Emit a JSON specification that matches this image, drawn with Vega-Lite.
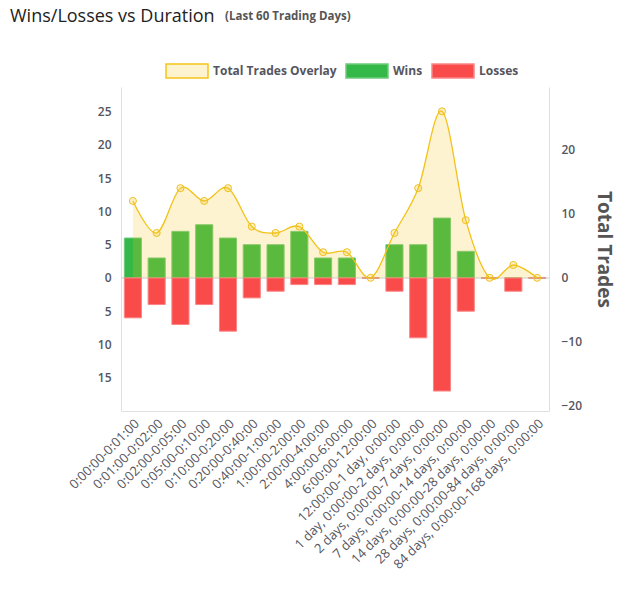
{
  "$schema": "https://vega.github.io/schema/vega-lite/v6.json",
  "width": 428,
  "height": 324,
  "padding": {"left": 10, "top": 8, "right": 5, "bottom": 5},
  "title": {
    "text": "Wins/Losses vs Duration",
    "subtitle": "\u200b\u00a0\u00a0\u00a0\u00a0\u00a0\u00a0\u00a0\u00a0\u00a0\u00a0\u00a0\u00a0\u00a0\u00a0\u00a0\u00a0\u00a0\u00a0\u00a0\u00a0\u00a0\u00a0\u00a0\u00a0\u00a0\u00a0\u00a0\u00a0\u00a0\u00a0\u00a0\u00a0\u00a0\u00a0\u00a0\u00a0\u00a0\u00a0\u00a0\u00a0\u00a0\u00a0\u00a0\u00a0\u00a0\u00a0\u00a0\u00a0\u00a0\u00a0\u00a0\u00a0\u00a0\u00a0\u00a0\u00a0\u00a0\u00a0\u00a0\u00a0\u00a0\u00a0\u00a0\u00a0\u00a0\u00a0\u00a0\u00a0\u00a0\u00a0\u00a0\u00a0(Last 60 Trading Days)",
    "anchor": "start",
    "frame": "group",
    "dx": -111,
    "offset": 23,
    "font": "Open Sans",
    "fontSize": 18,
    "fontWeight": "normal",
    "color": "#222222",
    "subtitleFont": "Open Sans",
    "subtitleFontSize": 11.5,
    "subtitleFontWeight": "bold",
    "subtitleColor": "#555555",
    "subtitlePadding": -15
  },
  "data": {
    "values": [
      {"duration": "0:00:00-0:01:00", "Wins": 6, "Losses": -6, "Total": 12},
      {"duration": "0:01:00-0:02:00", "Wins": 3, "Losses": -4, "Total": 7},
      {"duration": "0:02:00-0:05:00", "Wins": 7, "Losses": -7, "Total": 14},
      {"duration": "0:05:00-0:10:00", "Wins": 8, "Losses": -4, "Total": 12},
      {"duration": "0:10:00-0:20:00", "Wins": 6, "Losses": -8, "Total": 14},
      {"duration": "0:20:00-0:40:00", "Wins": 5, "Losses": -3, "Total": 8},
      {"duration": "0:40:00-1:00:00", "Wins": 5, "Losses": -2, "Total": 7},
      {"duration": "1:00:00-2:00:00", "Wins": 7, "Losses": -1, "Total": 8},
      {"duration": "2:00:00-4:00:00", "Wins": 3, "Losses": -1, "Total": 4},
      {"duration": "4:00:00-6:00:00", "Wins": 3, "Losses": -1, "Total": 4},
      {"duration": "6:00:00-12:00:00", "Wins": 0, "Losses": 0, "Total": 0},
      {"duration": "12:00:00-1 day, 0:00:00", "Wins": 5, "Losses": -2, "Total": 7},
      {"duration": "1 day, 0:00:00-2 days, 0:00:00", "Wins": 5, "Losses": -9, "Total": 14},
      {"duration": "2 days, 0:00:00-7 days, 0:00:00", "Wins": 9, "Losses": -17, "Total": 26},
      {"duration": "7 days, 0:00:00-14 days, 0:00:00", "Wins": 4, "Losses": -5, "Total": 9},
      {"duration": "14 days, 0:00:00-28 days, 0:00:00", "Wins": 0, "Losses": 0, "Total": 0},
      {"duration": "28 days, 0:00:00-84 days, 0:00:00", "Wins": 0, "Losses": -2, "Total": 2},
      {"duration": "84 days, 0:00:00-168 days, 0:00:00", "Wins": 0, "Losses": 0, "Total": 0}
    ]
  },
  "layer": [
    {
      "layer": [
        {
          "mark": {"type": "rule", "color": "#e4e4e4", "strokeWidth": 1},
          "encoding": {"y": {"datum": 0, "type": "quantitative"}}
        },
        {
          "transform": [{"fold": ["Wins", "Losses"], "as": ["series", "value"]}],
          "mark": {"type": "bar", "strokeWidth": 1},
          "encoding": {
            "x": {
              "field": "duration",
              "type": "nominal",
              "sort": null,
              "scale": {"paddingInner": 0.28, "paddingOuter": 0.14},
              "axis": {
                "title": null,
                "labelAngle": -45,
                "labelLimit": 400,
                "labelFontSize": 13,
                "labelFontWeight": 500,
                "labelPadding": 6,
                "ticks": false,
                "domainColor": "#e0e0e0"
              }
            },
            "y": {
              "field": "value",
              "type": "quantitative",
              "stack": null,
              "scale": {"domain": [-20, 28.7], "nice": false, "zero": false},
              "axis": {
                "orient": "left",
                "title": null,
                "values": [-15, -10, -5, 0, 5, 10, 15, 20, 25],
                "labelExpr": "format(abs(datum.value), 'd')",
                "labelPadding": 10,
                "ticks": false,
                "grid": false,
                "domainColor": "#e0e0e0"
              }
            },
            "fill": {
              "field": "series",
              "type": "nominal",
              "title": null,
              "scale": {
                "domain": ["Total Trades Overlay", "Wins", "Losses"],
                "range": ["#fdf3cf", "#34b847", "#fa4b4b"]
              },
              "legend": {
                "orient": "none",
                "legendX": 44,
                "legendY": -38,
                "direction": "horizontal",
                "title": null
              }
            },
            "stroke": {
              "field": "series",
              "type": "nominal",
              "title": null,
              "scale": {
                "domain": ["Total Trades Overlay", "Wins", "Losses"],
                "range": ["#f5c518", "#6fcb7d", "#fc8585"]
              },
              "legend": {
                "orient": "none",
                "legendX": 44,
                "legendY": -38,
                "direction": "horizontal",
                "title": null
              }
            }
          }
        }
      ]
    },
    {
      "encoding": {
        "x": {"field": "duration", "type": "nominal", "sort": null, "bandPosition": 0.5, "title": null},
        "y": {
          "field": "Total",
          "type": "quantitative",
          "scale": {"domain": [-20.8, 29.8], "nice": false, "zero": false},
          "axis": {
            "orient": "right",
            "title": "Total Trades",
            "values": [-20, -10, 0, 10, 20],
            "titleFontSize": 19,
            "titleFontWeight": "bold",
            "titleColor": "#555555",
            "titlePadding": 12,
            "labelPadding": 12,
            "ticks": false,
            "grid": false,
            "domainColor": "#e0e0e0"
          }
        }
      },
      "layer": [
        {"mark": {"type": "area", "interpolate": "cardinal", "color": "#f5c518", "fillOpacity": 0.2}},
        {"mark": {"type": "line", "interpolate": "cardinal", "color": "#f2c21a", "strokeWidth": 1.3}},
        {"mark": {"type": "point", "shape": "circle", "filled": true, "fill": "#f5c518", "fillOpacity": 0.25, "stroke": "#f0c020", "strokeWidth": 1, "strokeOpacity": 1, "opacity": 1, "size": 50}}
      ]
    }
  ],
  "resolve": {"scale": {"y": "independent"}},
  "config": {
    "view": {"stroke": null},
    "font": "Open Sans",
    "axis": {
      "labelFont": "Open Sans",
      "titleFont": "Open Sans",
      "labelColor": "#555560",
      "labelFontSize": 12,
      "labelFontWeight": 600
    },
    "legend": {
      "symbolType": "M-1,-0.333H1V0.333H-1Z",
      "symbolSize": 1764,
      "symbolStrokeWidth": 1.5,
      "symbolOpacity": 1,
      "labelFont": "Open Sans",
      "labelFontSize": 12,
      "labelFontWeight": "bold",
      "labelColor": "#555560",
      "labelOffset": 4,
      "columnPadding": 6
    }
  }
}
